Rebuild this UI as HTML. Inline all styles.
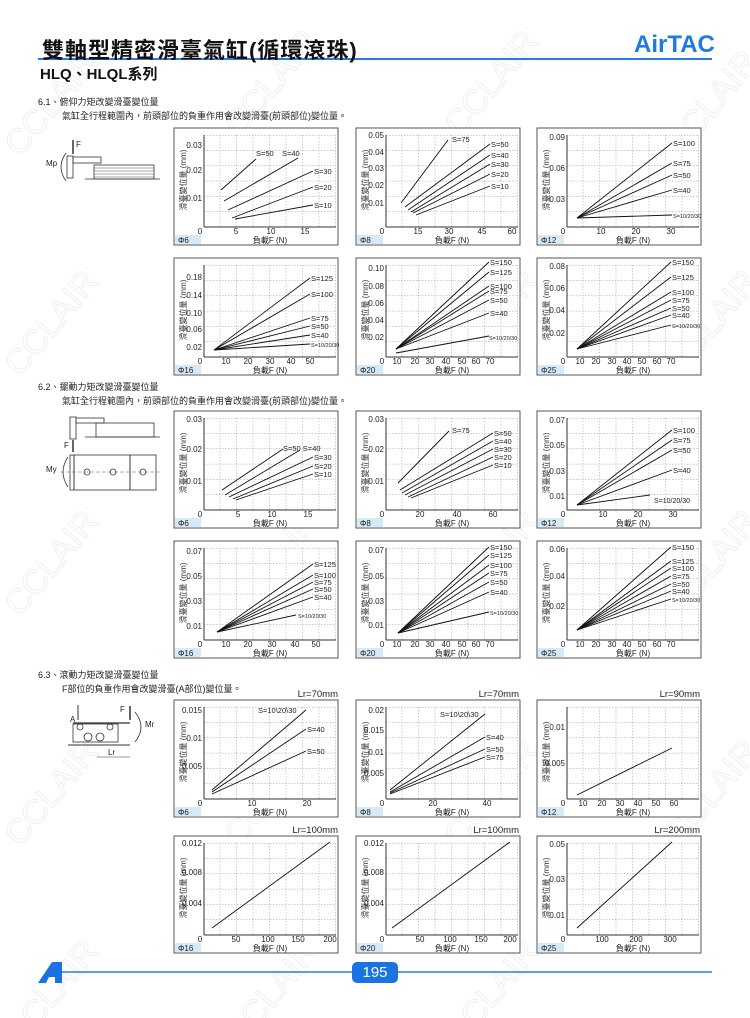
<!DOCTYPE html>
<html><head><meta charset="utf-8">
<style>
html,body{margin:0;padding:0;background:#fff;}
body{width:750px;height:1018px;position:relative;overflow:hidden;font-family:"Liberation Sans","Noto Sans CJK TC",sans-serif;}
.t{position:absolute;white-space:nowrap;color:#222;}
</style></head><body>
<svg id="s" width="750" height="1018" style="position:absolute;left:0;top:0" xmlns="http://www.w3.org/2000/svg" font-family="Liberation Sans, Noto Sans CJK TC, sans-serif"></svg>
<div class="t" style="left:42px;top:33px;font-size:22px;font-weight:bold;color:#111;letter-spacing:1px">雙軸型精密滑臺氣缸(循環滾珠)</div>
<div class="t" style="left:634px;top:31px;font-size:24px;font-weight:bold;color:#1e7be0;letter-spacing:0px">AirTAC</div>
<div class="t" style="left:40px;top:63px;font-size:15px;font-weight:bold;color:#111">HLQ、HLQL系列</div>
<div class="t" style="left:38px;top:95px;font-size:9px">6.1、俯仰力矩改變滑臺變位量</div>
<div class="t" style="left:62px;top:109px;font-size:9px">氣缸全行程範圍內，前頭部位的負重作用會改變滑臺(前頭部位)變位量。</div>
<div class="t" style="left:38px;top:380px;font-size:9px">6.2、擺動力矩改變滑臺變位量</div>
<div class="t" style="left:62px;top:394px;font-size:9px">氣缸全行程範圍內，前頭部位的負重作用會改變滑臺(前頭部位)變位量。</div>
<div class="t" style="left:38px;top:668px;font-size:9px">6.3、滾動力矩改變滑臺變位量</div>
<div class="t" style="left:62px;top:682px;font-size:9px">F部位的負重作用會改變滑臺(A部位)變位量。</div>
<div style="position:absolute;left:352px;top:962px;width:46px;height:21px;background:#1a73e0;border-radius:5px;color:#fff;font-size:15px;text-align:center;line-height:21px">195</div>
<script>
const S=document.getElementById('s');let h='';
const L=(a,b,c,d,st)=>h+=`<line x1="${a}" y1="${b}" x2="${c}" y2="${d}" ${st||'stroke="#111" stroke-width="0.9"'}/>`;
const T=(x,y,t,fs,anc,col)=>h+=`<text x="${x}" y="${y}" font-size="${fs||8}" text-anchor="${anc||'start'}" fill="${col||'#222'}">${t}</text>`;
[[60,110],[280,90],[500,90],[720,110],[60,330],[280,330],[500,330],[720,330],[60,570],[280,570],[500,570],[720,570],[60,800],[280,800],[500,800],[720,800],[60,1000],[280,1000],[500,1000]].forEach(p=>h+=`<text x="${p[0]}" y="${p[1]}" font-size="34" fill="none" stroke="#ececec" stroke-width="0.8" text-anchor="middle" transform="rotate(-50 ${p[0]} ${p[1]})">CCLAIR</text>`);
L(38,59,712,59,'stroke="#2a7de0" stroke-width="2"');
L(55,972,712,972,'stroke="#2a7de0" stroke-width="1.5"');
h+=`<polygon points="38,983 52,962 62,962 62,983 55,983 55,977 49,977 46,983" fill="#1a73e0"/>`;
function chart(bx,by,phi,yt,xt,lines,xl){
 const l=bx+30,r=bx+162,t=by+7,b=by+99;
 h+=`<rect x="${bx}" y="${by}" width="164" height="117" fill="#fff" stroke="#555" stroke-width="1"/>`;
 for(let x=l+16;x<r;x+=16.5)L(x,t,x,b,'stroke="#999" stroke-width="0.5" stroke-dasharray="1.5,1.5"');
 for(let y=b-15.3;y>t;y-=15.3)L(l,y,r,y,'stroke="#999" stroke-width="0.5" stroke-dasharray="1.5,1.5"');
 L(l,t,l,b,'stroke="#333" stroke-width="1"');L(l,b,r,b,'stroke="#333" stroke-width="1"');
 h+=`<rect x="${bx+1}" y="${by+107}" width="26" height="9" fill="#d6e9f7"/>`;
 T(bx+4,by+115,phi,8);T(bx+96,by+115,xl||'負載F (N)',8,'middle');
 h+=`<text x="${bx+12}" y="${by+52}" font-size="8" fill="#333" text-anchor="middle" transform="rotate(-90 ${bx+12} ${by+52})">滑臺變位量 (mm)</text>`;
 yt.forEach(p=>T(l-2,p[1]+3,p[0],8,'end'));
 xt.forEach(p=>T(p[1],by+106,p[0],8,'middle'));
 lines.forEach(q=>{L(q[0],q[1],q[2],q[3]);if(q[4])T(q[5]!==undefined?q[5]:q[2]+1,q[6]!==undefined?q[6]:q[3]+3,q[4],q[7]||7.5);});
}
const st=(x1,y1,ends,ex)=>ends.map(e=>[x1,y1,ex,e[1],e[0],undefined,undefined,e[0].indexOf('/')>0?5.5:7.5]);
chart(174,128,'Φ6',[['0.03',145],['0.02',170],['0.01',198]],[['0',200],['5',236],['10',271],['15',305]],
 [[221,190,256,159,'S=50',256,156],[224,201,298,158,'S=40',282,156],[228,210,313,171,'S=30'],[232,218,313,187,'S=20'],[235,219,313,205,'S=10']]);
chart(356,128,'Φ8',[['0.05',135],['0.04',152],['0.03',168],['0.02',185],['0.01',203]],[['0',382],['15',418],['30',449],['45',482],['60',512]],
 [[401,203,448,140,'S=75',452,142],[405,207,490,144,'S=50'],[408,210,490,155,'S=40'],[411,212,490,164,'S=30'],[413,213,490,174,'S=20'],[416,215,490,186,'S=10']]);
chart(537,128,'Φ12',[['0.09',137],['0.06',168],['0.03',199]],[['0',563],['10',601],['20',636],['30',671]],
 st(577,218,[['S=100',143],['S=75',163],['S=50',175],['S=40',190],['S=10/20/30',215]],672));
chart(174,258,'Φ16',[['0.18',277],['0.14',295],['0.10',313],['0.06',329],['0.02',347]],[['0',200],['10',226],['20',248],['30',270],['40',291],['50',310]],
 st(214,350,[['S=125',278],['S=100',294],['S=75',318],['S=50',326],['S=40',335],['S=10/20/30',344]],310));
chart(356,258,'Φ20',[['0.10',268],['0.08',286],['0.06',303],['0.04',320],['0.02',337]],[['0',382],['10',397],['20',415],['30',430],['40',446],['50',462],['60',476],['70',490]],
 st(396,349,[['S=150',262],['S=125',272],['S=100',286],['S=75',291],['S=50',300],['S=40',313]],489).concat([[396,353,489,336,'S=10/20/30',489,340,5.5]]));
chart(537,258,'Φ25',[['0.08',266],['0.06',288],['0.04',310],['0.02',333]],[['0',563],['10',580],['20',596],['30',612],['40',627],['50',642],['60',657],['70',671]],
 st(577,349,[['S=150',262],['S=125',277],['S=100',292],['S=75',300],['S=50',308],['S=40',315],['S=10/20/30',325]],671));
chart(174,411,'Φ6',[['0.03',419],['0.02',449],['0.01',481]],[['0',200],['5',238],['10',272],['15',308]],
 [[222,490,283,449,'S=50 S=40',283,451],[225,495,300,450],[229,497,313,457,'S=30'],[233,499,313,466,'S=20'],[236,500,313,474,'S=10']]);
chart(356,411,'Φ8',[['0.03',419],['0.02',449],['0.01',481]],[['0',382],['20',420],['40',457],['60',493]],
 [[398,483,449,431,'S=75',452,433],[400,490,493,433,'S=50'],[402,493,493,441,'S=40'],[405,495,493,449,'S=30'],[408,497,493,457,'S=20'],[411,498,493,465,'S=10']]);
chart(537,411,'Φ12',[['0.07',420],['0.05',445],['0.03',471],['0.01',496]],[['0',563],['10',603],['20',638],['30',673]],
 st(577,505,[['S=100',430],['S=75',440],['S=50',450],['S=40',470]],672).concat([[577,505,650,495,'S=10/20/30',654,503,7]]));
chart(174,541,'Φ16',[['0.07',551],['0.05',576],['0.03',601],['0.01',626]],[['0',200],['10',226],['20',248],['30',272],['40',295],['50',316]],
 st(217,632,[['S=125',564],['S=100',575],['S=75',582],['S=50',589],['S=40',597]],313).concat([[217,632,296,615,'S=10/20/30',298,618,5.5]]));
chart(356,541,'Φ20',[['0.07',550],['0.05',576],['0.03',601],['0.01',625]],[['0',382],['10',397],['20',415],['30',430],['40',446],['50',462],['60',476],['70',490]],
 st(398,633,[['S=150',547],['S=125',555],['S=100',565],['S=75',573],['S=50',582],['S=40',592],['S=10/20/30',612]],489));
chart(537,541,'Φ25',[['0.06',549],['0.04',576],['0.02',606]],[['0',563],['10',580],['20',596],['30',612],['40',627],['50',642],['60',657],['70',671]],
 st(577,630,[['S=150',547],['S=125',561],['S=100',568],['S=75',576],['S=50',584],['S=40',591],['S=10/20/30',599]],671));
chart(174,700,'Φ6',[['0.015',710],['0.01',738],['0.005',766]],[['0',200],['10',252],['20',307]],
 [[212,790,306,710,'S=10\\20\\30',258,713],[212,792,306,729,'S=40'],[212,794,306,751,'S=50']]);
chart(356,700,'Φ8',[['0.02',710],['0.015',730],['0.01',752],['0.005',773]],[['0',382],['20',433],['40',487]],
 [[390,790,485,714,'S=10\\20\\30',440,717],[390,792,485,737,'S=40'],[390,793,485,749,'S=50'],[390,794,485,757,'S=75']]);
chart(537,700,'Φ12',[['0.01',727],['0.005',763]],[['0',563],['10',583],['20',602],['30',620],['40',638],['50',656],['60',674]],[[577,795,672,748]]);
chart(174,836,'Φ16',[['0.012',843],['0.008',872],['0.004',903]],[['0',200],['50',236],['100',268],['150',298],['200',330]],[[212,928,330,842]],'負載F (N)');
chart(356,836,'Φ20',[['0.012',843],['0.008',872],['0.004',903]],[['0',382],['50',420],['100',450],['150',481],['200',510]],[[392,928,510,842]],'負載F (N)');
chart(537,836,'Φ25',[['0.05',844],['0.03',879],['0.01',915]],[['0',563],['100',602],['200',636],['300',670]],[[577,928,672,842]],'負載F (N)');
[['Lr=70mm',338,697],['Lr=70mm',519,697],['Lr=90mm',700,697],['Lr=100mm',338,833],['Lr=100mm',519,833],['Lr=200mm',700,833]].forEach(p=>T(p[1],p[2],p[0],9.5,'end'));
const g='stroke="#333" stroke-width="0.8" fill="none"';
h+=`<rect x="67" y="156" width="6" height="22" ${g}/><rect x="73" y="157" width="28" height="6" ${g}/><rect x="94" y="165" width="60" height="14" ${g}/>`;
for(let i=0;i<4;i++)L(94,168+i*3,154,168+i*3,'stroke="#555" stroke-width="0.5"');
L(85,179,160,179,'stroke="#333" stroke-width="0.8"');L(73,140,73,154,'stroke="#333" stroke-width="1.5"');T(76,147,'F',8);T(46,166,'Mp',8);
h+=`<path d="M66 153 Q56 167 66 181" ${g}/>`;
h+=`<rect x="70" y="417" width="6" height="22" ${g}/><rect x="76" y="418" width="28" height="5" ${g}/><rect x="96" y="423" width="58" height="14" ${g}/>`;
L(85,437,160,437,'stroke="#333" stroke-width="0.8"');
h+=`<rect x="70" y="455" width="86" height="35" ${g}/>`;L(74,455,74,490,'stroke="#333"');L(130,455,130,490,'stroke="#333"');L(60,472,160,472,'stroke="#666" stroke-width="0.5" stroke-dasharray="4,2"');
h+=`<circle cx="87" cy="472" r="3" ${g}/><circle cx="113" cy="472" r="3" ${g}/><circle cx="143" cy="472" r="3" ${g}/>`;
L(73,440,73,452,'stroke="#333" stroke-width="1.5"');T(64,448,'F',8);T(46,472,'My',8);h+=`<path d="M68 457 Q58 472 68 487" ${g}/>`;
h+=`<rect x="73" y="724" width="45" height="18" ${g}/>`;L(73,723,130,723,'stroke="#333" stroke-width="1.2"');
h+=`<circle cx="80" cy="727" r="3" ${g}/><circle cx="110" cy="727" r="3" ${g}/><circle cx="88" cy="737" r="4" ${g}/><circle cx="100" cy="737" r="4" ${g}/>`;
L(68,745,130,745,'stroke="#333"');L(97,757,130,757,'stroke="#333" stroke-width="0.6"');T(108,755,'Lr',8);
L(78,705,78,720,'stroke="#333" stroke-width="1"');T(70,722,'A',8);L(130,706,130,720,'stroke="#333" stroke-width="1.5"');T(120,712,'F',8);T(145,727,'Mr',8);
h+=`<path d="M135 712 Q147 727 135 742" ${g}/>`;
S.innerHTML=h;
</script>
</body></html>
